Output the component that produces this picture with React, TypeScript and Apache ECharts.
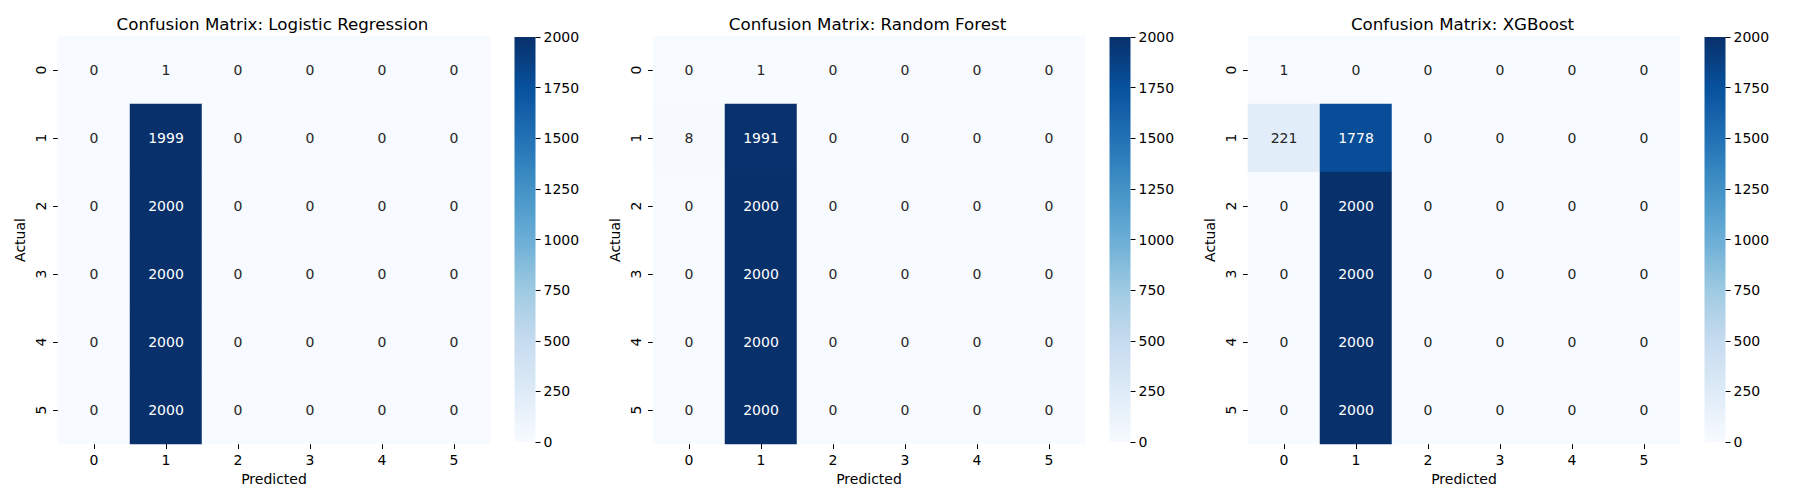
import { useEffect, useRef } from "react";
import * as echarts from "echarts";

const classes = ["0", "1", "2", "3", "4", "5"];
const models = ["Logistic Regression", "Random Forest", "XGBoost"];

const cmLogistic = [
  [0, 1, 0, 0, 0, 0],
  [0, 1999, 0, 0, 0, 0],
  [0, 2000, 0, 0, 0, 0],
  [0, 2000, 0, 0, 0, 0],
  [0, 2000, 0, 0, 0, 0],
  [0, 2000, 0, 0, 0, 0],
];
const cmForest = [
  [0, 1, 0, 0, 0, 0],
  [8, 1991, 0, 0, 0, 0],
  [0, 2000, 0, 0, 0, 0],
  [0, 2000, 0, 0, 0, 0],
  [0, 2000, 0, 0, 0, 0],
  [0, 2000, 0, 0, 0, 0],
];
const cmXgb = [
  [1, 0, 0, 0, 0, 0],
  [221, 1778, 0, 0, 0, 0],
  [0, 2000, 0, 0, 0, 0],
  [0, 2000, 0, 0, 0, 0],
  [0, 2000, 0, 0, 0, 0],
  [0, 2000, 0, 0, 0, 0],
];
const matrices = [cmLogistic, cmForest, cmXgb];

// colorbar scale
const cbMin = 0;
const cbMax = 2000;
const cbStep = 250;

// matplotlib "Blues"
const blues = ["#f7fbff", "#deebf7", "#c6dbef", "#9ecae1", "#6baed6", "#4292c6", "#2171b5", "#08519c", "#08306b"];

const FONT = "DejaVu Sans";

export default function App() {
  const chartRef = useRef<HTMLDivElement>(null);

  useEffect(() => {
    if (!chartRef.current) return;
    const chart = echarts.init(chartRef.current, null, { renderer: "svg" });

    // integer cell sizes so the svg rects don't show seams
    const top = 36;
    const height = 408;
    const width = 432;
    const lefts = [0, 1, 2].map((i) => 58 + i * 595);
    const cbLefts = [0, 1, 2].map((i) => 514.5 + i * 595);

    const grid: any[] = [];
    const xAxis: any[] = [];
    const yAxis: any[] = [];
    const heatSeries: any[] = [];
    const barSeries: any[] = [];
    const graphic: any[] = [];

    const tickStyle = { show: true, length: 5, lineStyle: { color: "#000", width: 1 } };
    const labelStyle = { fontSize: 14, color: "#000", fontFamily: FONT };

    matrices.forEach((m, i) => {
      const L = lefts[i];
      grid.push({ left: L, top, width, height });
      grid.push({ left: cbLefts[i], top: 37, width: 21, height: 405 });

      xAxis.push({
        type: "category",
        gridIndex: 2 * i,
        data: classes,
        position: "bottom",
        axisLine: { show: false },
        axisTick: { ...tickStyle, alignWithLabel: true },
        axisLabel: { ...labelStyle, margin: 9 },
        splitLine: { show: false },
        name: "Predicted",
        nameLocation: "middle",
        nameGap: 27,
        nameTextStyle: { ...labelStyle },
      });
      yAxis.push({
        type: "category",
        gridIndex: 2 * i,
        data: classes,
        inverse: true,
        axisLine: { show: false },
        axisTick: { ...tickStyle, alignWithLabel: true },
        axisLabel: { ...labelStyle, margin: 10, rotate: 90 },
        splitLine: { show: false },
        name: "Actual",
        nameLocation: "middle",
        nameGap: 31,
        nameTextStyle: { ...labelStyle },
      });

      xAxis.push({ type: "category", gridIndex: 2 * i + 1, data: [""], show: false });
      yAxis.push({
        type: "value",
        gridIndex: 2 * i + 1,
        position: "right",
        min: cbMin,
        max: cbMax,
        interval: cbStep,
        axisLine: { show: false },
        axisTick: tickStyle,
        axisLabel: { ...labelStyle, margin: 8, formatter: (v: number) => String(v) },
        splitLine: { show: false },
      });

      heatSeries.push({
        type: "heatmap",
        xAxisIndex: 2 * i,
        yAxisIndex: 2 * i,
        data: m.flatMap((row, r) =>
          row.map((v, c) => ({
            value: [c, r, v],
            label: { color: v > 1000 ? "#ffffff" : "#262626" },
          }))
        ),
        label: { show: true, fontSize: 14, fontFamily: FONT },
        itemStyle: { borderWidth: 0 },
        emphasis: { disabled: true },
      });

      barSeries.push({
        type: "bar",
        xAxisIndex: 2 * i + 1,
        yAxisIndex: 2 * i + 1,
        data: [cbMax],
        barWidth: "100%",
        itemStyle: {
          color: new echarts.graphic.LinearGradient(
            0, 1, 0, 0,
            blues.map((c, k) => ({ offset: k / (blues.length - 1), color: c }))
          ),
        },
        emphasis: { disabled: true },
      });

      graphic.push({
        type: "text",
        x: L + width / 2 - 1.5,
        y: 24,
        style: {
          text: `Confusion Matrix: ${models[i]}`,
          fill: "#000",
          fontSize: 16.7,
          fontFamily: FONT,
          align: "center",
          verticalAlign: "middle",
        },
      });
    });

    const option: echarts.EChartsOption = {
      animation: false,
      backgroundColor: "#ffffff",
      textStyle: { fontFamily: FONT },
      grid,
      xAxis,
      yAxis,
      visualMap: {
        type: "continuous",
        show: false,
        min: cbMin,
        max: cbMax,
        seriesIndex: [0, 1, 2],
        inRange: { color: blues },
      },
      graphic,
      series: [...heatSeries, ...barSeries],
    };

    chart.setOption(option);

    return () => {
      chart.dispose();
    };
  }, []);

  return (
    <div
      ref={chartRef}
      style={{ position: "fixed", left: 0, top: 0, width: "1800px", height: "500px" }}
    />
  );
}
